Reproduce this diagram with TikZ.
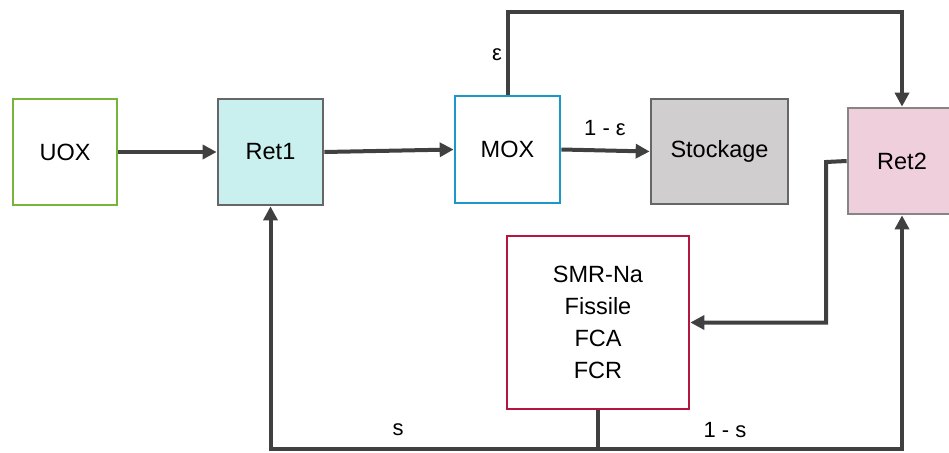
\documentclass[tikz,border=0pt]{standalone}
\usepackage{fontspec}
\setmainfont{Liberation Sans}
\usetikzlibrary{arrows.meta,calc}
\definecolor{ln}{HTML}{404040}
\definecolor{uoxc}{HTML}{77B53A}
\definecolor{ret1f}{HTML}{C9F0EF}
\definecolor{boxb}{HTML}{666666}
\definecolor{moxc}{HTML}{1B98C9}
\definecolor{stf}{HTML}{D0CECE}
\definecolor{ret2f}{HTML}{F0CFDD}
\definecolor{smrc}{HTML}{B3173F}
\tikzset{
  blk/.style={draw, line width=2.7pt, inner sep=0pt, align=center, font=\fontsize{23.5}{32}\selectfont},
  flow/.style={draw=ln, line width=4pt, -{Triangle[length=14pt,width=14pt]}},
  plain/.style={draw=ln, line width=4pt},
  lbl/.style={font=\fontsize{22}{26}\selectfont, inner sep=0pt}
}
\begin{document}
\begin{tikzpicture}[x=1pt,y=-1pt]
\useasboundingbox (0,0) rectangle (949,452);
\node[blk, draw=uoxc, minimum width=104pt, minimum height=106pt] (uox) at (65,152) {UOX};
\node[blk, draw=boxb, fill=ret1f, minimum width=105pt, minimum height=106pt] (ret1) at (270.5,152) {Ret1};
\node[blk, draw=moxc, minimum width=105pt, minimum height=107pt] (mox) at (507.5,149.5) {MOX};
\node[blk, draw=boxb, fill=stf, minimum width=137pt, minimum height=105pt] (stock) at (719.5,151.5) {Stockage};
\node[blk, draw=boxb!80, fill=ret2f, minimum width=108pt, minimum height=106pt] (ret2) at (902,161) {Ret2};
\node[blk, draw=smrc, minimum width=182pt, minimum height=173pt] (smr) at (598,322.5) {SMR-Na\\Fissile\\FCA\\FCR};
\coordinate (top) at (507,12);
\coordinate (bend) at (826,162);
\coordinate (bot) at (598,449);
\draw[flow] (uox.east) -- (ret1.west);
\draw[flow] (ret1.east) -- (mox.west);
\draw[flow] (mox.east) -- (stock.west);
\draw[flow] (mox.north) |- (top -| ret2.north) -- (ret2.north);
\draw[flow] (ret2.west) -- (bend) |- (smr.east);
\draw[plain] (smr.south) -- (bot);
\draw[flow] (bot) -| (ret1.south);
\draw[flow] (bot) -| (ret2.south);
\node[lbl] (leps) at (497,55) {ε};
\node[lbl] (l1eps) at (605,128) {1 - ε};
\node[lbl] (ls) at (398,430) {s};
\node[lbl] (l1s) at (725,430) {1 - s};
\end{tikzpicture}
\end{document}
